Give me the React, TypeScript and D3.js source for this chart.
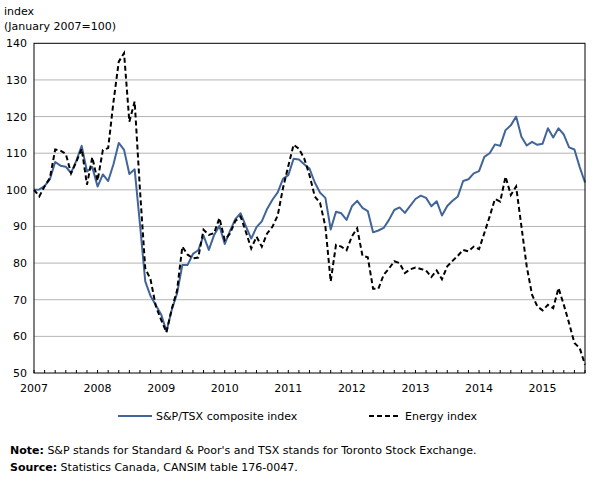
import React from "react";
import * as d3 from "d3";

const years = ["2007", "2008", "2009", "2010", "2011", "2012", "2013", "2014", "2015"];
const yTicks = [50, 60, 70, 80, 90, 100, 110, 120, 130, 140];

// Monthly values, January 2007 to September 2015 (January 2007 = 100)
const composite = [
  100, 100.1, 101, 102.9, 107.6, 106.6, 106.3, 104.6, 108, 112, 105, 106.2,
  100.9, 104.2, 102.4, 107, 112.8, 110.9, 104.3, 105.6, 90.6, 75, 71, 68.5,
  66, 61.4, 67.2, 71.7, 79.5, 79.5, 82.5, 83.5, 87.5, 83.6, 87.7, 90.2,
  85.2, 88.8, 92, 93.6, 90, 86.7, 89.8, 91.4, 94.8, 97.3, 99.3, 103,
  104, 108.5, 108.3, 107, 105.8, 102, 99.2, 97.8, 89.2, 94, 93.6, 91.8,
  95.5, 97, 95.1, 94.2, 88.4, 88.9, 89.6, 91.8, 94.5, 95.2, 93.7, 95.6,
  97.5, 98.4, 97.8, 95.5, 96.9, 93, 95.6, 97, 98.2, 102.4, 102.9, 104.5,
  105.1, 109, 110, 112.4, 112, 116.3, 117.6, 120, 114.5, 112.1, 113.1, 112.3,
  112.6, 116.8, 114.3, 116.8, 115.1, 111.6, 111, 106.2, 102,
];

const energy = [
  100, 98.2, 101, 103.2, 111, 110.7, 109.8, 104.5, 107.7, 111.2, 101.4, 108.9,
  102.5, 110.9, 111.4, 124, 135, 137.3, 118.6, 124.1, 100, 78.6, 75.5, 68.2,
  64.5, 61.1, 67.5, 72.5, 84.5, 82.3, 81.3, 81.5, 89.1, 87.7, 88.2, 92.3,
  86.3, 88.1, 91.5, 92.7, 88.5, 84, 87.2, 84.5, 88.1, 89.9, 93, 100.5,
  106.5, 112.3, 111.2, 108.6, 104, 98.2, 96.4, 90, 75, 85, 84.5, 83.5,
  87.3, 89.5, 82, 81.6, 73, 73, 76.8, 78.5, 80.5, 80, 77.3, 78.3,
  78.8, 78.4, 78, 76.2, 78, 75.6, 79.1, 80.6, 82, 83.6, 83.2, 84.5,
  83.8, 88.2, 92.7, 97.5, 96.8, 103.6, 98.6, 100.9, 90, 79.1, 71.4, 68.2,
  67.1, 68.6, 67.7, 73.2, 68.6, 63.6, 58.2, 56.8, 52.3,
];

const FONT = "'DejaVu Sans', Verdana, sans-serif";

export default function App() {
  const W = 593, H = 480;
  const left = 34, right = 585, top = 43.3, bottom = 373;
  const n = composite.length;
  const x = d3.scaleLinear().domain([0, n - 1]).range([left, right]);
  const y = d3.scaleLinear().domain([50, 140]).range([bottom, top]);
  const line = d3.line<number>().x((_, i) => x(i)).y((d) => y(d));
  const monthTicks = d3.range(0, n, 2);

  return (
    <svg width={W} height={H} style={{ position: "absolute", left: 0, top: 0 }} fontFamily={FONT}>
      <rect width={W} height={H} fill="#fff" />
      <text x={4} y={15} fontSize={11} fill="#000">index</text>
      <text x={4} y={30} fontSize={11} fill="#000">(January 2007=100)</text>
      {yTicks.filter((t) => t > 50 && t < 140).map((t) => (
        <line key={"g" + t} x1={left} x2={right} y1={y(t)} y2={y(t)} stroke="#b4b4b4" strokeWidth={1} />
      ))}
      {yTicks.map((t) => (
        <text key={"yl" + t} x={27} y={y(t) + 4} fontSize={11} textAnchor="end" fill="#000">{t}</text>
      ))}
      {monthTicks.map((i) => (
        <line key={"t" + i} x1={x(i)} x2={x(i)} y1={bottom} y2={bottom - 3} stroke="#000" strokeWidth={1} />
      ))}
      {years.map((yr, k) => (
        <text key={yr} x={x(k * 12)} y={392} fontSize={11} textAnchor="middle" fill="#000">{yr}</text>
      ))}
      <path d={line(composite) || ""} fill="none" stroke="#41659a" strokeWidth={2} strokeLinejoin="round" />
      <path d={line(energy) || ""} fill="none" stroke="#000" strokeWidth={2} strokeDasharray="5,3" />
      <rect x={left} y={top} width={right - left} height={bottom - top} fill="none" stroke="#000" strokeWidth={1} />
      <line x1={118} x2={152} y1={416} y2={416} stroke="#41659a" strokeWidth={2} />
      <text x={156} y={420} fontSize={11} fill="#000">S&amp;P/TSX composite index</text>
      <line x1={369} x2={401} y1={416} y2={416} stroke="#000" strokeWidth={2} strokeDasharray="5,3" />
      <text x={405} y={420} fontSize={11} fill="#000">Energy index</text>
      <text x={10} y={454} fontSize={11} fill="#000">
        <tspan fontWeight="bold">Note:</tspan> S&amp;P stands for Standard &amp; Poor's and TSX stands for Toronto Stock Exchange.
      </text>
      <text x={10} y={471} fontSize={11} fill="#000">
        <tspan fontWeight="bold">Source:</tspan> Statistics Canada, CANSIM table 176-0047.
      </text>
    </svg>
  );
}
